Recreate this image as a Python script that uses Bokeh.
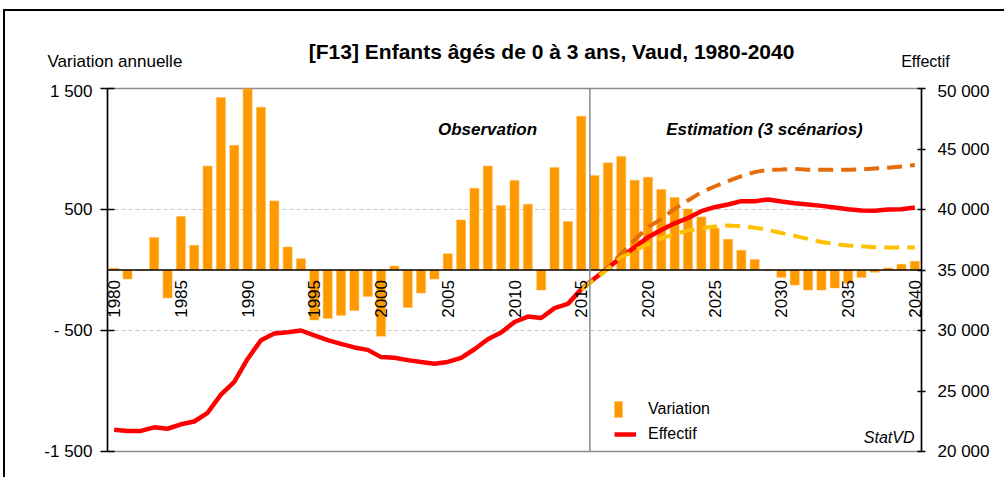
import numpy as np
from bokeh.plotting import figure
from bokeh.layouts import column, row
from bokeh.models import (Range1d, LinearAxis, FixedTicker, Span, Label, Legend,
                          LegendItem, ColumnDataSource)
from bokeh.core.properties import value
from bokeh.embed import file_html
from bokeh.resources import INLINE

# ---------------- data ----------------
years = list(range(1980, 2041))
variation = [15, -75, -5, 268, -232, 442, 204, 859, 1425, 1030,
             1500, 1345, 571, 190, 94, -414, -400, -375, -334, -218,
             -547, 33, -309, -190, -75, 135, 414, 676, 859, 533,
             740, 544, -166, 847, 400, 1270, 781, 886, 938, 742,
             767, 665, 599, 505, 439, 345, 254, 163, 86, -5,
             -61, -124, -166, -166, -149, -110, -61, -19, 17, 47, 72]
effectif = [21800, 21700, 21700, 22000, 21880, 22250, 22480, 23200, 24700, 25750,
            27650, 29200, 29750, 29850, 30000, 29600, 29200, 28900, 28600, 28400,
            27800, 27750, 27550, 27400, 27260, 27400, 27730, 28450, 29280, 29830,
            30700, 31150, 31030, 31850, 32200, 33400, 34300, 35170, 36050, 36880,
            37700, 38310, 38860, 39300, 39860, 40190, 40410, 40690, 40690, 40820,
            40660, 40520, 40410, 40300, 40160, 40020, 39910, 39890, 40000, 40020, 40160]
scen_years = list(range(2015, 2041))
scen_haut = [33400, 34250, 35220, 36330, 37480, 38530, 39220, 40050, 40740, 41430,
             41900, 42340, 42760, 43090, 43280, 43310, 43360, 43280, 43280, 43280,
             43280, 43310, 43390, 43450, 43560, 43670]
scen_bas = [33400, 34200, 35080, 36050, 36600, 37150, 37620, 37980, 38260, 38450,
            38590, 38670, 38620, 38500, 38310, 38060, 37820, 37570, 37320, 37150,
            37020, 36960, 36880, 36850, 36850, 36850]

left_ticks = [-1500, -500, 500, 1500]
left_tick_labels = ["-1 500", "- 500", "500", "1 500"]
right_ticks = [20000, 25000, 30000, 35000, 40000, 45000, 50000]
right_tick_labels = ["20 000", "25 000", "30 000", "35 000", "40 000", "45 000", "50 000"]
label_years = [1980, 1985, 1990, 1995, 2000, 2005, 2010, 2015, 2020, 2025, 2030, 2035, 2040]
label_texts = [str(y) for y in label_years]
label_base = [0] * len(label_years)
separation_year = 2015.65

FONT = "Liberation Sans"
W = 999          # width of both figures
HEAD_H = 70      # height of the header strip

# ---------------- header (titles) ----------------
head = figure(width=W, height=HEAD_H, x_range=Range1d(0, W), y_range=Range1d(0, HEAD_H),
              output_backend="svg", toolbar_location=None, min_border=0,
              min_border_left=0, min_border_right=0, min_border_top=0, min_border_bottom=0,
              x_axis_location=None, y_axis_location=None)
head.outline_line_color = None
head.xgrid.visible = False
head.ygrid.visible = False
head.background_fill_color = "white"
head.border_fill_color = "white"

def head_label(x, y, text, size, style="normal", align="left"):
    head.add_layout(Label(x=x, y=y, text=text, text_font=FONT, text_font_size=size,
                          text_font_style=style, text_align=align,
                          text_baseline="middle", text_color="black"))

head_label(549, 30, "[F13]  Enfants âgés de 0 à 3 ans, Vaud, 1980-2040", "21px", "bold", "center")
head_label(42, 20, "Variation annuelle", "17px")
head_label(920, 20, "Effectif", "16px", "normal", "center")

# ---------------- main figure ----------------
p = figure(frame_width=814, frame_height=363,
           x_range=Range1d(1979.5, 2040.5), y_range=Range1d(-1500, 1500),
           output_backend="svg", toolbar_location=None,
           min_border_left=102, min_border_right=W - 102 - 814, min_border_top=7,
           min_border_bottom=26, x_axis_location=None)
p.background_fill_color = "white"
p.border_fill_color = "white"
p.outline_line_color = "#8c8c8c"
p.outline_line_width = 1.5

p.extra_y_ranges = {"eff": Range1d(20000, 50000)}

ya = p.yaxis[0]
ya.ticker = FixedTicker(ticks=left_ticks)
ya.major_label_overrides = {t: l for t, l in zip(left_ticks, left_tick_labels)}
ya.minor_tick_line_color = None
ya.major_tick_out = 7
ya.major_tick_in = 7
ya.axis_line_color = "black"
ya.axis_line_width = 1.5
ya.major_tick_line_width = 1.5
ya.major_label_standoff = 8
ya.major_label_text_font = FONT
ya.major_label_text_font_size = "17px"
ya.major_label_text_color = "black"

ra = LinearAxis(y_range_name="eff", ticker=FixedTicker(ticks=right_ticks))
ra.major_label_overrides = {t: l for t, l in zip(right_ticks, right_tick_labels)}
ra.minor_tick_line_color = None
ra.major_tick_out = 4
ra.major_tick_in = 4
ra.axis_line_color = "black"
ra.axis_line_width = 1.5
ra.major_tick_line_width = 1.5
ra.major_label_standoff = 12
ra.major_label_text_font = FONT
ra.major_label_text_font_size = "17px"
ra.major_label_text_color = "black"
p.add_layout(ra, "right")

p.xgrid.visible = False
p.ygrid.ticker = FixedTicker(ticks=[-500, 500])
p.ygrid.grid_line_color = "#c8c8c8"
p.ygrid.grid_line_dash = "4 3"
p.ygrid.grid_line_width = 1

src = ColumnDataSource(dict(x=years, top=variation))
bars = p.vbar(x="x", top="top", width=0.68, source=src,
              fill_color="#FF9900", line_color="#FFB84D", line_width=0.5)

p.add_layout(Span(location=0, dimension="width", line_color="black", line_width=1.5))
p.add_layout(Span(location=separation_year, dimension="height", line_color="#8c8c8c", line_width=1.5))

r_eff = p.line(years, effectif, y_range_name="eff", line_color="#FF0000", line_width=4.5)
p.line(scen_years, scen_haut, y_range_name="eff", line_color="#E46C0A", line_width=4,
       line_dash="15 8")
p.line(scen_years, scen_bas, y_range_name="eff", line_color="#FFC000", line_width=4,
       line_dash="15 8")

p.text(x=label_years, y=label_base, text=label_texts, angle=np.pi / 2,
       text_align="right", text_baseline="middle", y_offset=10,
       text_font=value(FONT), text_font_size="17px", text_color="black")

def add_label(x, y, text, size, style="normal", align="left"):
    p.add_layout(Label(x=x, y=y, x_units="screen", y_units="screen", text=text,
                       text_font=FONT, text_font_size=size, text_font_style=style,
                       text_align=align, text_baseline="middle", text_color="black"))

add_label(380, 322, "Observation", "17px", "bold italic", "center")
add_label(657, 322, "Estimation (3 scénarios)", "17px", "bold italic", "center")
add_label(807, 14, "StatVD", "16px", "italic", "right")

leg1 = Legend(items=[LegendItem(label="Variation", renderers=[bars])],
              location=(506, 32), glyph_width=10, glyph_height=20, label_standoff=25,
              padding=0, margin=0, border_line_color=None, background_fill_alpha=0,
              label_text_font=FONT, label_text_font_size="16px", label_text_color="black")
leg2 = Legend(items=[LegendItem(label="Effectif", renderers=[r_eff])],
              location=(507, 7), glyph_width=22, glyph_height=20, label_standoff=12,
              padding=0, margin=0, border_line_color=None, background_fill_alpha=0,
              label_text_font=FONT, label_text_font_size="16px", label_text_color="black")
p.add_layout(leg1)
p.add_layout(leg2)

layout = column(row(head), p, spacing=0,
                styles={"margin-left": "3px", "margin-top": "9px",
                        "border-left": "2px solid black", "border-top": "2px solid black"})

open("out.html", "w").write(file_html(layout, INLINE))
